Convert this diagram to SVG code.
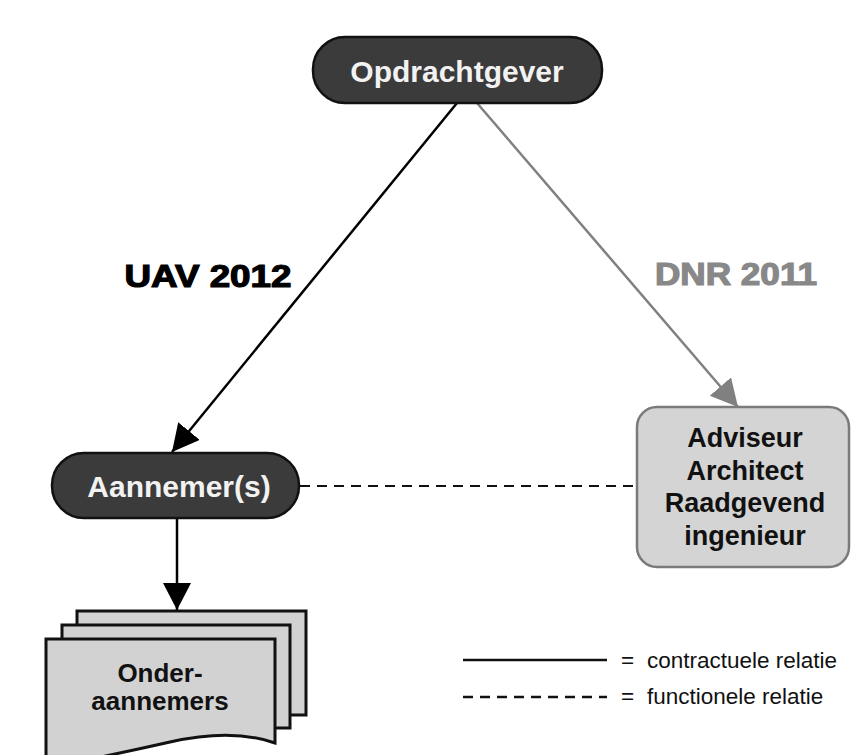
<svg xmlns="http://www.w3.org/2000/svg" width="851" height="755" viewBox="0 0 851 755">
  <defs>
    <style>
      .dark rect { fill: #3b3b3b; stroke: #111; stroke-width: 2.5; }
      .dark text { fill: #f2f2f2; font-family: "Liberation Sans", Arial, sans-serif; font-weight: bold; font-size: 30px; text-anchor: middle; }
      .light rect { fill: #d4d4d4; stroke: #7a7a7a; stroke-width: 2.5; }
      .light text, .page text { fill: #111; font-family: "Liberation Sans", Arial, sans-serif; font-weight: bold; text-anchor: middle; }
      .page path, .page rect { fill: #d2d2d2; stroke: #111; stroke-width: 3; stroke-linejoin: miter; }
      .lbl { font-family: "Liberation Sans", Arial, sans-serif; font-weight: bold; font-size: 31px; stroke-width: 1.2; }
      .leg { font-family: "Liberation Sans", Arial, sans-serif; font-size: 22.5px; fill: #111; }
    </style>
    <marker id="ahBlack" markerUnits="userSpaceOnUse" markerWidth="30" markerHeight="30" refX="27" refY="14" orient="auto">
      <path d="M0,0 L27,14 L0,28 z" fill="#000"/>
    </marker>
    <marker id="ahGray" markerUnits="userSpaceOnUse" markerWidth="30" markerHeight="30" refX="27" refY="14" orient="auto">
      <path d="M0,0 L27,14 L0,28 z" fill="#808080"/>
    </marker>
  </defs>
  <rect x="0" y="0" width="851" height="755" fill="#fff"/>

  <g id="connectors">
    <line x1="457" y1="103" x2="172" y2="452" stroke="#000" stroke-width="2.5" marker-end="url(#ahBlack)"/>
    <line x1="477" y1="103" x2="738" y2="407" stroke="#808080" stroke-width="2.5" marker-end="url(#ahGray)"/>
    <line x1="177" y1="518" x2="177" y2="610" stroke="#000" stroke-width="2.5" marker-end="url(#ahBlack)"/>
    <line x1="300" y1="486" x2="636" y2="486" stroke="#111" stroke-width="2.2" stroke-dasharray="10 7"/>
    <text class="lbl" x="208" y="287" text-anchor="middle" fill="#000" stroke="#000" textLength="167" lengthAdjust="spacingAndGlyphs">UAV 2012</text>
    <text class="lbl" x="736" y="285" text-anchor="middle" fill="#888" stroke="#888" textLength="162" lengthAdjust="spacingAndGlyphs">DNR 2011</text>
  </g>

  <g id="opdrachtgever" class="dark">
    <rect x="313" y="37" width="289" height="66" rx="32" ry="32"/>
    <text x="457" y="82">Opdrachtgever</text>
  </g>

  <g id="aannemers" class="dark">
    <rect x="52" y="453" width="247" height="65" rx="32" ry="32"/>
    <text x="179" y="497">Aannemer(s)</text>
  </g>

  <g id="adviseur" class="light">
    <rect x="637" y="407" width="212" height="160" rx="20" ry="20"/>
    <text x="745" y="447" font-size="27">Adviseur</text>
    <text x="745" y="480" font-size="27">Architect</text>
    <text x="745" y="512" font-size="27">Raadgevend</text>
    <text x="745" y="545" font-size="27">ingenieur</text>
  </g>

  <g id="onderaannemers" class="page">
    <rect x="77" y="611" width="229" height="104"/>
    <rect x="62" y="625" width="228" height="103"/>
    <path d="M46,639 H275 V743 Q232,728 170,742 T46,768 Z"/>
    <text x="160" y="682" font-size="26">Onder-</text>
    <text x="160" y="710" font-size="26">aannemers</text>
  </g>

  <g id="legend">
    <line x1="463" y1="660" x2="607" y2="660" stroke="#111" stroke-width="2.5"/>
    <text class="leg" x="621" y="668">=</text>
    <text class="leg" x="647" y="668">contractuele relatie</text>
    <line x1="463" y1="697" x2="607" y2="697" stroke="#111" stroke-width="2.5" stroke-dasharray="10 7"/>
    <text class="leg" x="621" y="704">=</text>
    <text class="leg" x="647" y="704">functionele relatie</text>
  </g>
</svg>
